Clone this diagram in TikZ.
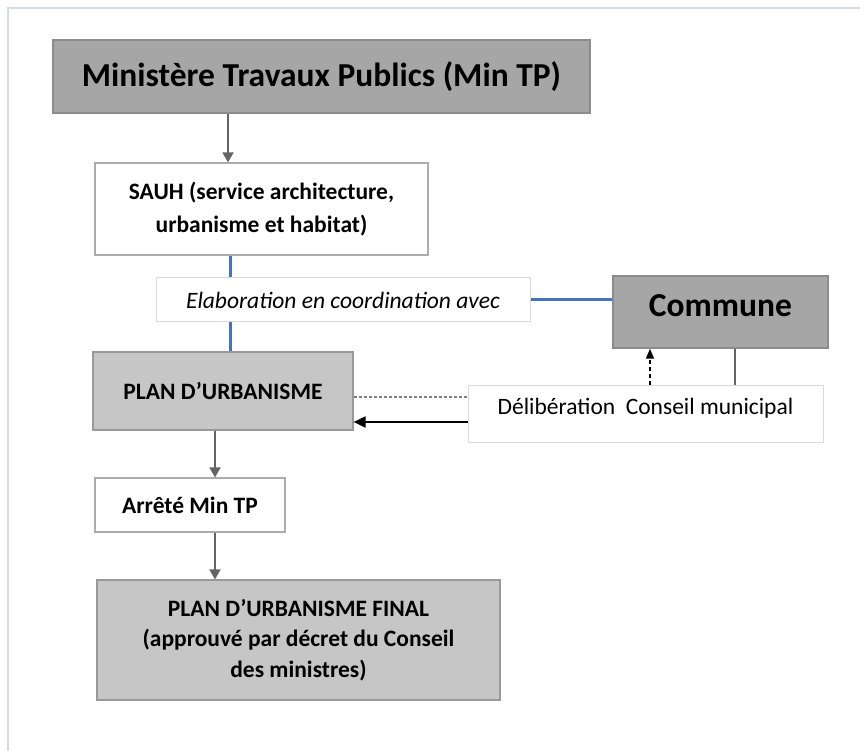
\documentclass[tikz,border=0pt]{standalone}
\usepackage{fontspec}
\setmainfont{Carlito}
\usetikzlibrary{arrows.meta}
\definecolor{framec}{HTML}{D5DBE5}
\definecolor{darkfill}{HTML}{A6A6A6}
\definecolor{lightfill}{HTML}{C6C6C6}
\definecolor{boxline}{HTML}{8C8C8C}
\definecolor{thinline}{HTML}{BFBFBF}
\definecolor{arrowc}{HTML}{646464}
\definecolor{bluel}{HTML}{4472C4}
\tikzset{
  base/.style={rectangle, align=center, inner sep=2pt, text=black},
  darkbox/.style={base, fill=darkfill, draw=boxline, line width=1.5pt},
  lightbox/.style={base, fill=lightfill, draw=thinline!80!black, line width=1.2pt},
  whitebox/.style={base, fill=white, draw=thinline!90!black, line width=1.2pt},
  palebox/.style={base, fill=white, draw=framec!70!gray!60, line width=1pt},
  grayarrow/.style={draw=arrowc, line width=1.8pt, -{Triangle[width=11pt,length=10pt]}},
  blueline/.style={draw=bluel, line width=3pt},
  bigtext/.style={font=\fontsize{33.5}{38}\selectfont\bfseries},
  smallbold/.style={font=\fontsize{23.5}{33}\selectfont\bfseries},
  smallital/.style={font=\fontsize{23.5}{28}\selectfont\itshape},
  smallreg/.style={font=\fontsize{23.5}{28}\selectfont},
  finaltext/.style={font=\fontsize{23.5}{30.5}\selectfont\bfseries},
}
\begin{document}
\begin{tikzpicture}[x=1pt,y=-1pt]
\useasboundingbox (0,0) rectangle (860,751);
\draw[framec, line width=1.5pt] (8,751) -- (8,8) -- (860,8);

\node[darkbox, bigtext, minimum width=537pt, minimum height=73pt] (mintp) at (321.5,76.5) {Ministère Travaux Publics (Min TP)};
\node[whitebox, smallbold, minimum width=333pt, minimum height=92pt] (sauh) at (261.5,209) {SAUH (service architecture,\\urbanisme et habitat)};
\node[palebox, smallital, minimum width=374pt, minimum height=44pt] (elab) at (343,300) {Elaboration en coordination avec};
\node[darkbox, minimum width=215pt, minimum height=72pt] (commune) at (720.5,312) {};
\node[bigtext] (communet) at (720.5,306) {Commune};
\node[lightbox, smallbold, minimum width=260pt, minimum height=78pt] (plan) at (223,391) {PLAN D’URBANISME};
\node[palebox, minimum width=355pt, minimum height=56pt] (delib) at (645.5,414) {};
\node[smallreg] (delibt) at (645.5,408) {Délibération\ \ Conseil municipal};
\node[whitebox, smallbold, minimum width=190pt, minimum height=54pt] (arrete) at (190,505) {Arrêté Min TP};
\node[lightbox, finaltext, minimum width=403pt, minimum height=120pt] (final) at (298.5,640) {PLAN D’URBANISME FINAL\\(approuvé par décret du Conseil\\des ministres)};

\coordinate (xa) at (228,0);
\coordinate (xb) at (230,0);
\coordinate (xc) at (215,0);
\coordinate (xd) at (650,0);
\coordinate (xe) at (735,0);
\coordinate (ya) at (0,397);
\coordinate (yb) at (0,422);

\draw[grayarrow] (mintp.south -| xa) -- (sauh.north -| xa);
\draw[blueline] (sauh.south -| xb) -- (elab.north -| xb);
\draw[blueline] (elab.south -| xb) -- (plan.north -| xb);
\draw[blueline] (elab.east) -- (commune.west |- elab.east);
\draw[draw=gray, line width=1.5pt, dash pattern=on 3pt off 2pt] (plan.east |- ya) -- (delib.west |- ya);
\draw[black, line width=2pt, -{Triangle[width=11pt,length=12pt]}] (delib.west |- yb) -- (plan.east |- yb);
\draw[black, line width=1.5pt, dash pattern=on 4pt off 3pt, -{Triangle[width=8pt,length=10pt]}] (delib.north -| xd) -- (commune.south -| xd);
\draw[arrowc, line width=1.5pt] (commune.south -| xe) -- (delib.north -| xe);
\draw[grayarrow] (plan.south -| xc) -- (arrete.north -| xc);
\draw[grayarrow] (arrete.south -| xc) -- (final.north -| xc);
\end{tikzpicture}
\end{document}
